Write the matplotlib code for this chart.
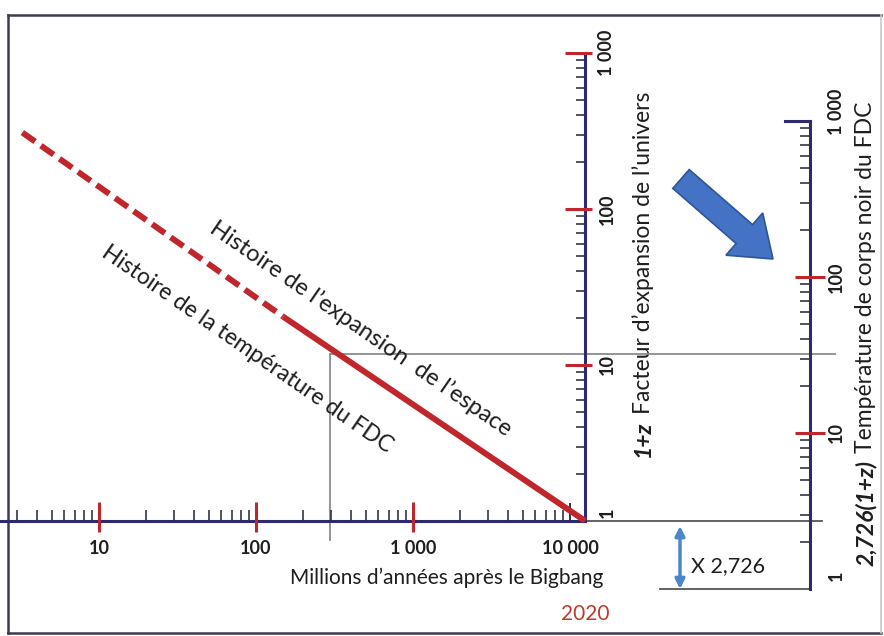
import numpy as np
import matplotlib.pyplot as plt
from matplotlib.patches import FancyArrow

plt.rcParams['font.family'] = ['Lato', 'DejaVu Sans']

# =========================
# Data
# =========================
# history line: millions of years after the big bang vs 1+z
dash_age = [3.25, 149]
dash_z1 = [309, 20.4]
solid_age = [149, 12500]
solid_z1 = [20.4, 1]

# crosshair point on the line
mark_age = 295
mark_z1 = 11.8

T0 = 2.726  # CMB temperature today (K)

x_major = [10, 100, 1000]
x_labels = ["10", "100", "1 000", "10 000"]
x_label_vals = [10, 100, 1000, 10000]
x_minor = [m * 10 ** k for k in range(0, 4) for m in range(2, 10)]
x_minor = [v for v in x_minor if v >= 3]

z_major = [10, 100, 1000]
z_labels = ["1", "10", "100", "1 000"]
z_label_vals = [1, 10, 100, 1000]
z_minor = [m * 10 ** k for k in range(0, 3) for m in range(2, 10)]

T_major = [10, 100]
T_labels = ["1", "10", "100", "1 000"]
T_label_vals = [1, 10, 100, 1000]
T_minor = [m * 10 ** k for k in range(0, 3) for m in range(2, 10)]

# =========================
# Pixel calibration
# =========================
W, H = 884, 636
X10, XDEC = 99, 157   # pixel of t=10 and pixels per decade
Y1, YDEC = 521, 156   # pixel of 1+z=1 and pixels per decade


def dx(p):
    return 10 ** (1 + (p - X10) / XDEC)


def dy(p):
    return 10 ** ((Y1 - p) / YDEC)


RED = "#C0272D"
NAVY = "#2D2A6E"
TICK = "#333344"
GREY = "#8C8C8C"
BLUE = "#4472C4"
INK = "#1E1E1E"

fig = plt.figure(figsize=(W / 100, H / 100), dpi=100)
fig.patch.set_facecolor("white")

# overlay in pixel coordinates for frame, arrows and rotated titles
ov = fig.add_axes([0, 0, 1, 1])
ov.set_xlim(0, W)
ov.set_ylim(H, 0)
ov.axis("off")

ax = fig.add_axes([0, 0, 1, 1])
ax.set_xscale("log")
ax.set_yscale("log")
ax.set_xlim(dx(0), dx(W))
ax.set_ylim(dy(H), dy(0))
ax.axis("off")
ax.patch.set_alpha(0)

renderer = fig.canvas.get_renderer()


def two_part_title(x, y_bottom, first, rest, size):
    # bold italic prefix then regular text, rotated 90, reading upward
    t1 = ov.text(x, y_bottom, first, rotation=90, ha="center", va="bottom",
                 fontsize=size, fontweight="bold", fontstyle="italic",
                 color=INK)
    bb = t1.get_window_extent(renderer)
    top = ov.transData.inverted().transform((0, bb.y1))[1]
    ov.text(x, top - 7, rest, rotation=90, ha="center", va="bottom",
            fontsize=size, color=INK)


# frame
ov.plot([8, 881], [15, 15], color="#3C3C50", lw=1.8)
ov.plot([8, 8], [15, 633], color="#3C3C50", lw=1.8)
ov.plot([8, 881], [633, 633], color="#3C3C50", lw=1.8)
ov.plot([881, 881], [15, 633], color="#C8C8D0", lw=1.2)

t_now = solid_age[-1]
x_r = dx(810)

# crosshair
ax.plot([mark_age, mark_age], [mark_z1, dy(540)], color=GREY, lw=1.3)
ax.plot([mark_age, dx(835)], [mark_z1, mark_z1], color=GREY, lw=1.3)

# x axis
ax.plot([dx(0), t_now], [1, 1], color=NAVY, lw=2.2, zorder=3)
ax.vlines(x_minor, 1, dy(510), colors=TICK, lw=1.2)
ax.vlines([10000], 1, dy(503), colors=TICK, lw=1.4)
ax.vlines(x_major, dy(502), dy(532), colors=RED, lw=2.2, zorder=4)
for v, lab in zip(x_label_vals, x_labels):
    ax.text(v, dy(548), lab, ha="center", va="center", fontsize=13,
            fontweight="bold", color=INK)
ax.text(dx(447), dy(578), "Millions d’années après le Bigbang", ha="center",
        va="center", fontsize=15, color=INK)
ax.text(dx(585), dy(614), "2020", ha="center", va="center", fontsize=15,
        color="#C0392B")

# 1+z axis
ax.plot([t_now, t_now], [1, 1000], color=NAVY, lw=2.2, zorder=3)
ax.hlines(z_minor, dx(576), t_now, colors=TICK, lw=1.2)
ax.hlines(z_major, dx(565), dx(592), colors=RED, lw=2.2, zorder=4)
for v, lab in zip(z_label_vals, z_labels):
    yy = v if v > 1 else dy(513)
    ax.text(dx(607), yy, lab, rotation=90, ha="center", va="center",
            fontsize=13, fontweight="bold", color=INK)
two_part_title(643, 457, "1+z", "Facteur d’expansion de l’univers", 16.5)

# gray continuation of x axis and reference line for the temperature axis
ax.plot([t_now, dx(822)], [1, 1], color="#555555", lw=1.3)
ax.plot([dx(660), x_r], [1 / T0, 1 / T0], color="#555555", lw=1.3)

# temperature axis
ax.plot([x_r, x_r], [1 / T0, 1000 / T0], color=NAVY, lw=2.2, zorder=3)
ax.plot([dx(785), x_r], [1000 / T0, 1000 / T0], color=NAVY, lw=2.2)
ax.hlines(np.array(T_minor) / T0, dx(800), x_r, colors=TICK, lw=1.2)
ax.hlines(np.array(T_major) / T0, dx(795), dx(825), colors=RED, lw=2.2,
          zorder=4)
for v, lab in zip(T_label_vals, T_labels):
    yy = v / T0
    if v == 1:
        yy = dy(576)
    elif v == 1000:
        yy = dy(112)
    ax.text(dx(836), yy, lab, rotation=90, ha="center", va="center",
            fontsize=13, fontweight="bold", color=INK)
two_part_title(866, 566, "2,726(1+z)", "Température de corps noir du FDC",
               16.5)

# history line
ax.plot(dash_age, dash_z1, color=RED, lw=4.3, dashes=(2.6, 1.2), zorder=5)
ax.plot(solid_age, solid_z1, color=RED, lw=4.3, zorder=5,
        solid_capstyle="butt")

ax.text(dx(361), dy(329), "Histoire de l’expansion  de l’espace",
        rotation=-34.6, rotation_mode="anchor", ha="center", va="center",
        fontsize=17, color=INK)
ax.text(dx(247), dy(349), "Histoire de la température du FDC",
        rotation=-34.6, rotation_mode="anchor", ha="center", va="center",
        fontsize=16.5, color=INK)

# blue arrows
ov.add_patch(FancyArrow(681, 179, 92, 80, width=25, head_width=56,
                        head_length=38, length_includes_head=True,
                        fc=BLUE, ec="#2F5597", lw=1.2))
ov.annotate("", xy=(680, 526), xytext=(680, 589),
            arrowprops=dict(arrowstyle="<|-|>", color="#4A86C8", lw=2.5,
                            mutation_scale=14, shrinkA=0, shrinkB=0))
ov.text(691, 566, "X 2,726", ha="left", va="center", fontsize=15.5,
        color=INK)

plt.savefig("out.png", dpi=100)
